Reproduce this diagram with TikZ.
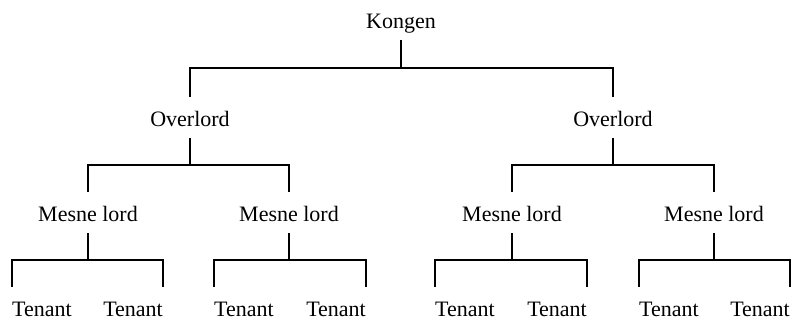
\documentclass[tikz,border=0pt]{standalone}
\usepackage{fontspec}
\setmainfont{Liberation Serif}
\begin{document}
\begin{tikzpicture}[x=1pt,y=-1pt,
  rank/.style={font=\fontsize{22}{24}\selectfont, inner xsep=0pt, inner ysep=7pt,
               text height=23pt, text depth=4pt},
  leaf/.style={rank, text depth=0pt, inner ysep=1pt, text height=28pt},
  link/.style={line width=1.5pt, line cap=butt, line join=miter}]
\useasboundingbox (0,0) rectangle (792,320);

% crown
\node[rank, anchor=base] (k) at (401,29) {Kongen};

% overlords
\node[rank, anchor=base] (o1) at (190,127) {Overlord};
\node[rank, anchor=base] (o2) at (613,127) {Overlord};

% mesne lords
\node[rank, anchor=base] (m1) at (88,222) {Mesne lord};
\node[rank, anchor=base] (m2) at (289,222) {Mesne lord};
\node[rank, anchor=base] (m3) at (512,222) {Mesne lord};
\node[rank, anchor=base] (m4) at (714,222) {Mesne lord};

% tenants
\node[leaf, anchor=base west] (t1) at (12,316) {Tenant};
\node[leaf, anchor=base east] (t2) at (163,316) {Tenant};
\node[leaf, anchor=base west] (t3) at (214,316) {Tenant};
\node[leaf, anchor=base east] (t4) at (366,316) {Tenant};
\node[leaf, anchor=base west] (t5) at (435,316) {Tenant};
\node[leaf, anchor=base east] (t6) at (587,316) {Tenant};
\node[leaf, anchor=base west] (t7) at (639,316) {Tenant};
\node[leaf, anchor=base east] (t8) at (790,316) {Tenant};

% elbow connectors: stem down from the parent, bar across, drop to each child
\coordinate (kb) at (401,68);
\draw[link] (k.south) -- (kb);
\draw[link] (o1.north) |- (kb) -| (o2.north);

\coordinate (o1b) at (190,165);
\draw[link] (o1.south) -- (o1b);
\draw[link] (m1.north) |- (o1b) -| (m2.north);

\coordinate (o2b) at (613,165);
\draw[link] (o2.south) -- (o2b);
\draw[link] (m3.north) |- (o2b) -| (m4.north);

\coordinate (m1b) at (88,260);
\draw[link] (m1.south) -- (m1b);
\draw[link] (t1.north west) |- (m1b) -| (t2.north east);

\coordinate (m2b) at (289,260);
\draw[link] (m2.south) -- (m2b);
\draw[link] (t3.north west) |- (m2b) -| (t4.north east);

\coordinate (m3b) at (512,260);
\draw[link] (m3.south) -- (m3b);
\draw[link] (t5.north west) |- (m3b) -| (t6.north east);

\coordinate (m4b) at (714,260);
\draw[link] (m4.south) -- (m4b);
\draw[link] (t7.north west) |- (m4b) -| (t8.north east);
\end{tikzpicture}
\end{document}
